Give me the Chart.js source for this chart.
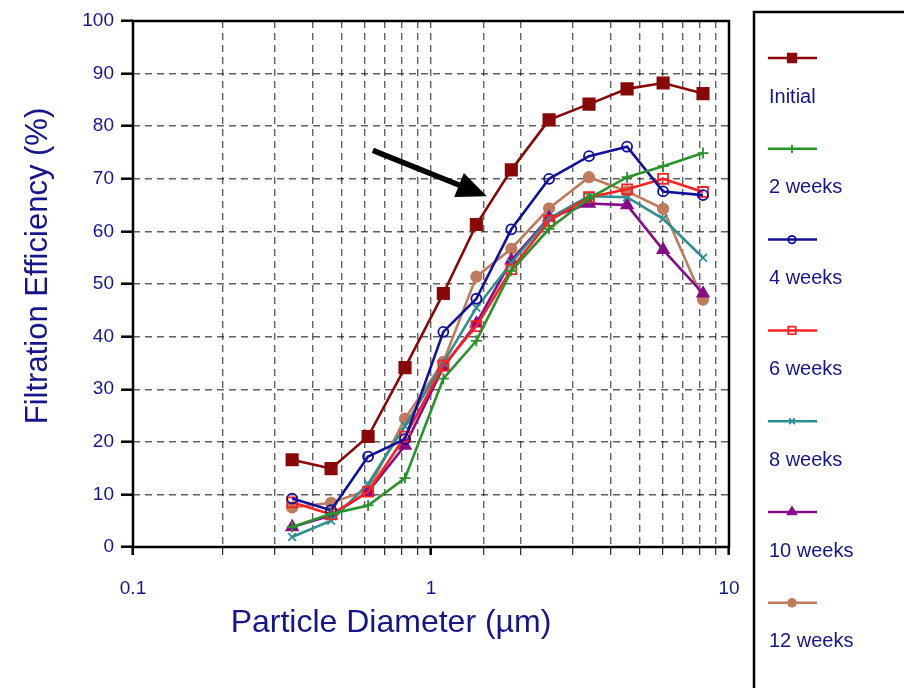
<!DOCTYPE html>
<html>
<head>
<meta charset="utf-8">
<title>Filtration Efficiency</title>
<script src="https://cdn.jsdelivr.net/npm/chart.js"></script>
<style>
  html, body { margin: 0; padding: 0; background: #fff; }
  #wrap { width: 904px; height: 688px; position: relative; }
</style>
</head>
<body>
<div id="wrap"><canvas id="filtration-chart"></canvas></div>
<script>
// ===== DONNÉES =====
const diameters = [0.342, 0.462, 0.615, 0.818, 1.1, 1.42, 1.86, 2.49, 3.39, 4.55, 6.01, 8.18]
const seriesLabels = ['Initial', '2 weeks', '4 weeks', '6 weeks', '8 weeks', '10 weeks', '12 weeks']
const initial = [16.6, 14.9, 21.0, 34.1, 48.2, 61.3, 71.7, 81.2, 84.2, 87.1, 88.2, 86.2]
const weeks2 = [3.8, 6.3, 7.9, 13.1, 32.0, 39.2, 52.5, 60.5, 66.3, 70.3, 72.4, 74.9]
const weeks4 = [9.2, 7.0, 17.2, 20.5, 40.9, 47.2, 60.4, 70.0, 74.3, 76.1, 67.6, 66.9]
const weeks6 = [8.5, 6.2, 10.5, 21.0, 34.5, 42.0, 52.8, 62.0, 66.5, 68.0, 70.0, 67.5]
const weeks8 = [1.9, 5.0, 12.0, 23.0, 35.0, 45.5, 54.0, 62.5, 66.7, 66.5, 62.4, 55.0]
const weeks10 = [3.8, 6.0, 10.5, 19.3, 34.2, 42.5, 54.5, 62.6, 65.3, 65.0, 56.5, 48.2]
const weeks12 = [7.5, 8.4, 10.8, 24.4, 35.2, 51.4, 56.7, 64.4, 70.3, 67.6, 64.3, 47.0]
const xTickLabels = [0.1, 1, 10]
const yTickLabels = [0, 10, 20, 30, 40, 50, 60, 70, 80, 90, 100]

// ===== STYLES =====
const navy = '#16168a'
const fontFamily = '"Liberation Sans", Arial, sans-serif'
const seriesStyles = [
  { color: '#880808', pointStyle: 'rect', radius: 8, fill: '#880808' },
  { color: '#2a922a', pointStyle: 'cross', radius: 5.5, fill: '#2a922a' },
  { color: '#10109a', pointStyle: 'circle', radius: 5, fill: 'rgba(0,0,0,0)' },
  { color: '#ff2020', pointStyle: 'rect', radius: 7, fill: 'rgba(0,0,0,0)' },
  { color: '#2a9090', pointStyle: 'crossRot', radius: 5.5, fill: '#2a9090' },
  { color: '#860c8a', pointStyle: 'triangle', radius: 6.5, fill: '#860c8a' },
  { color: '#bf7c5c', pointStyle: 'circle', radius: 5.2, fill: '#bf7c5c' },
]
const seriesValues = [initial, weeks2, weeks4, weeks6, weeks8, weeks10, weeks12]

function buildDatasets() {
  return seriesValues.map((values, i) => {
    const st = seriesStyles[i]
    return {
      label: seriesLabels[i],
      data: values.map((v, j) => ({ x: diameters[j], y: v })),
      borderColor: st.color,
      backgroundColor: st.fill,
      borderWidth: 2.6,
      pointStyle: st.pointStyle,
      pointRadius: st.radius,
      pointBorderColor: st.color,
      pointBackgroundColor: st.fill,
      pointBorderWidth: 1.8,
      tension: 0,
    }
  })
}

// ===== PLUGIN : cadre, titres, flèche, légende =====
const decorPlugin = {
  id: 'decor',
  afterDraw(chart) {
    const { ctx, chartArea, scales } = chart
    ctx.save()

    // cadre du graphique
    ctx.strokeStyle = '#000'
    ctx.lineWidth = 2.5
    ctx.strokeRect(chartArea.left, chartArea.top, chartArea.right - chartArea.left, chartArea.bottom - chartArea.top)

    // titres des axes
    ctx.fillStyle = navy
    ctx.font = '32px ' + fontFamily
    ctx.textAlign = 'center'
    ctx.textBaseline = 'middle'
    ctx.fillText('Particle Diameter (µm)', chartArea.left + 258, chartArea.bottom + 76)
    ctx.save()
    ctx.translate(chartArea.left - 95, chartArea.top + 245)
    ctx.rotate(-Math.PI / 2)
    ctx.font = '31px ' + fontFamily
    ctx.fillText('Filtration Efficiency (%)', 0, 0)
    ctx.restore()

    // flèche
    const x0 = scales.x.getPixelForValue(0.638)
    const y0 = scales.y.getPixelForValue(75.4)
    const x1 = scales.x.getPixelForValue(1.54)
    const y1 = scales.y.getPixelForValue(66.7)
    const ang = Math.atan2(y1 - y0, x1 - x0)
    const headLen = 30
    const headW = 13
    const bx = x1 - headLen * Math.cos(ang)
    const by = y1 - headLen * Math.sin(ang)
    ctx.strokeStyle = '#000'
    ctx.lineWidth = 5.5
    ctx.beginPath()
    ctx.moveTo(x0, y0)
    ctx.lineTo(bx + 4 * Math.cos(ang), by + 4 * Math.sin(ang))
    ctx.stroke()
    ctx.fillStyle = '#000'
    ctx.beginPath()
    ctx.moveTo(x1, y1)
    ctx.lineTo(bx + headW * Math.sin(ang), by - headW * Math.cos(ang))
    ctx.lineTo(bx - headW * Math.sin(ang), by + headW * Math.cos(ang))
    ctx.closePath()
    ctx.fill()

    // légende
    const lx = 754
    const ly = 12
    ctx.strokeStyle = '#000'
    ctx.lineWidth = 2.5
    ctx.strokeRect(lx, ly, 200, 700)
    seriesLabels.forEach((label, i) => {
      const st = seriesStyles[i]
      const sy = 58 + i * 90.8
      ctx.strokeStyle = st.color
      ctx.lineWidth = 2.5
      ctx.beginPath()
      ctx.moveTo(768, sy)
      ctx.lineTo(817, sy)
      ctx.stroke()
      ctx.fillStyle = st.fill
      ctx.strokeStyle = st.color
      ctx.lineWidth = 1.8
      Chart.helpers.drawPoint(ctx, { pointStyle: st.pointStyle, radius: st.radius * 0.75, borderWidth: 1.8, rotation: 0 }, 792, sy)
      ctx.fillStyle = navy
      ctx.font = '20px ' + fontFamily
      ctx.textAlign = 'left'
      ctx.textBaseline = 'middle'
      ctx.fillText(label, 769, sy + 39)
    })

    ctx.restore()
  },
}

// ===== GRAPHIQUE =====
function initChart() {
  const ctx = document.getElementById('filtration-chart')
  const gridDash = [7, 5]

  new Chart(ctx, {
    type: 'line',
    data: { datasets: buildDatasets() },
    plugins: [decorPlugin],
    options: {
      responsive: true,
      maintainAspectRatio: false,
      animation: false,
      layout: { padding: { left: 0, right: 175, top: 21, bottom: 0 } },
      plugins: {
        legend: { display: false },
        tooltip: { enabled: false },
      },
      scales: {
        x: {
          type: 'logarithmic',
          min: 0.1,
          max: 10,
          afterFit: (scale) => { scale.height = 141 },
          border: { display: false, dash: gridDash },
          grid: {
            color: 'rgba(0,0,0,0.62)',
            lineWidth: 1.4,
            tickLength: 8,
            tickBorderDash: [],
            tickColor: '#000',
            tickWidth: (c) => (xTickLabels.includes(c.tick && c.tick.value) ? 2.5 : 1),
          },
          ticks: {
            autoSkip: false,
            maxRotation: 0,
            color: navy,
            font: { family: fontFamily, size: 19 },
            padding: 22,
            callback: (value) => (xTickLabels.includes(value) ? String(value) : ''),
          },
        },
        y: {
          min: 0,
          max: 100,
          afterFit: (scale) => { scale.width = 133 },
          border: { display: false, dash: gridDash },
          grid: {
            color: 'rgba(0,0,0,0.62)',
            lineWidth: 1.4,
            tickLength: 12,
            tickBorderDash: [],
            tickColor: '#000',
            tickWidth: 2.5,
          },
          ticks: {
            stepSize: 10,
            color: navy,
            font: { family: fontFamily, size: 19 },
            padding: 7,
            callback: (value) => (yTickLabels.includes(value) ? String(value) : ''),
          },
        },
      },
    },
  })
}

document.addEventListener('DOMContentLoaded', initChart)
</script>
</body>
</html>
